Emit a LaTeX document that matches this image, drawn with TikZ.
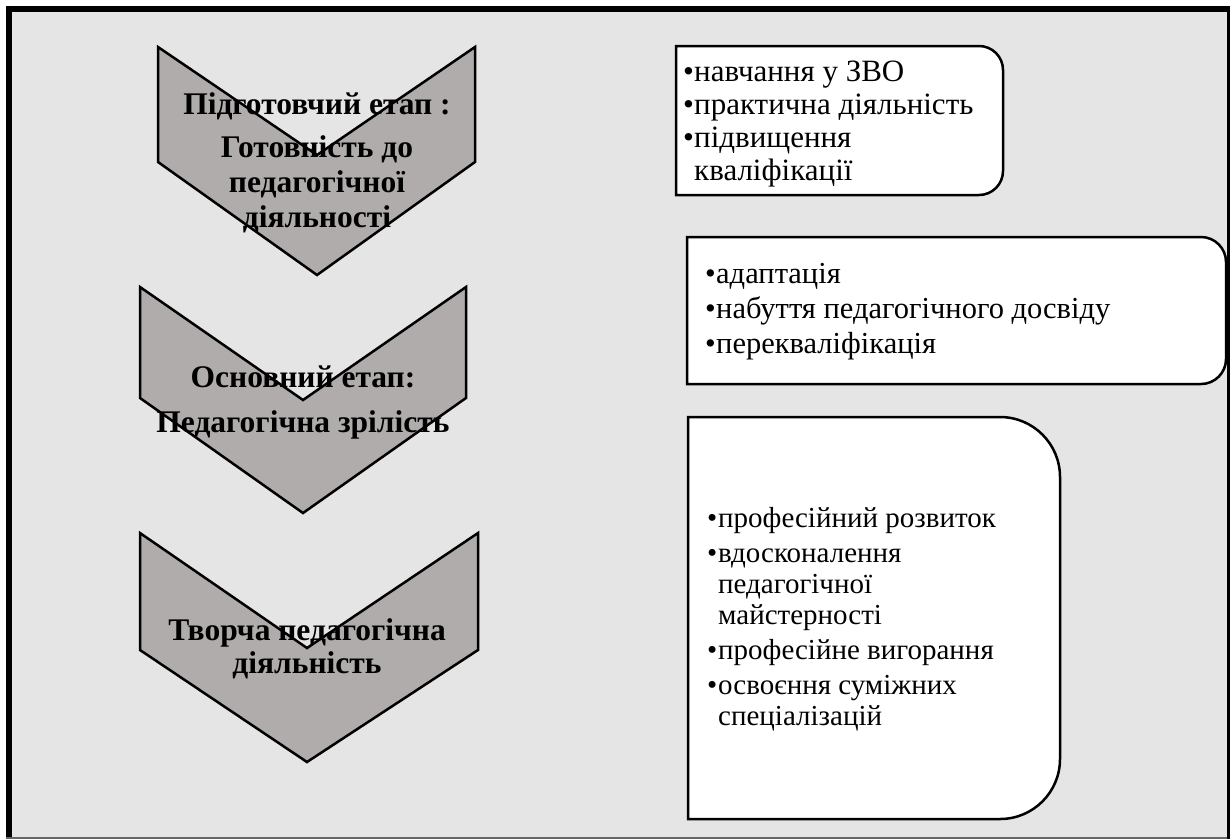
\documentclass[tikz,border=0pt]{standalone}
\usepackage{fontspec}
\setmainfont{LiberationSerif}[Extension=.ttf,UprightFont=*-Regular,BoldFont=*-Bold,ItalicFont=*-Italic,BoldItalicFont=*-BoldItalic]
\usetikzlibrary{positioning}
\definecolor{bgcol}{RGB}{229,229,229}
\definecolor{chevcol}{RGB}{176,172,171}
\newcommand{\itm}{\makebox[11pt][l]{•}}
\newcommand{\cnt}{\hspace*{11pt}}

\begin{document}
\begin{tikzpicture}[x=1pt,y=-1pt,
    chev/.style={draw=black,line width=2.5pt,fill=chevcol,line join=miter},
    chevtext/.style={font=\bfseries\fontsize{31.5}{35}\selectfont,align=center,inner sep=0pt,anchor=base},
    stagebox/.style={draw=black,line width=2.5pt,fill=white},
    boxtext/.style={align=left,inner sep=0pt,anchor=base west}]
  \useasboundingbox (0,0) rectangle (1230,839);
  % frame
  \fill[bgcol] (9,9) rectangle (1228,838);
  % chevrons
  \foreach \l/\r/\m/\t/\s/\k/\p in {158/475/317/47/162/155/275,140/466/303/287/398/400/513,140/478/307/533/650/648/762}
    \draw[chev] (\l,\t) -- (\m,\k) -- (\r,\t) -- (\r,\s) -- (\m,\p) -- (\l,\s) -- cycle;
  % captions (anchored at the last line)
  \node[chevtext] (prep) at (317,227) {Підготовчий етап :\\[8pt] Готовність до\\ педагогічної\\ діяльності};
  \node[chevtext] (main) at (303,432) {Основний етап:\\[10pt] Педагогічна зрілість};
  \node[chevtext] (creative) at (307,673) {Творча педагогічна\\[-2pt] діяльність};
  % boxes
  \draw[stagebox] (676,46) -- (979,46) arc[start angle=-90,end angle=0,radius=24] -- (1003,171)
    arc[start angle=0,end angle=90,radius=24] -- (676,195) -- cycle;
  \draw[stagebox] (687,237) -- (1201,237) arc[start angle=-90,end angle=0,radius=25] -- (1226,359)
    arc[start angle=0,end angle=90,radius=25] -- (687,384) -- cycle;
  \draw[stagebox] (688,417) -- (1000,417) arc[start angle=-90,end angle=0,radius=60] -- (1060,759)
    arc[start angle=0,end angle=90,radius=60] -- (688,819) -- cycle;
  \node[boxtext,font=\fontsize{31}{33}\selectfont] (prep-list) at (683,180)
    {\itm навчання у ЗВО\\ \itm практична діяльність\\ \itm підвищення\\ \cnt кваліфікації};
  \node[boxtext,font=\fontsize{30.5}{35}\selectfont] (main-list) at (705,353)
    {\itm адаптація\\ \itm набуття педагогічного досвіду\\ \itm перекваліфікація};
  \node[boxtext,font=\fontsize{29}{31}\selectfont] (creative-list) at (707,725)
    {\itm професійний розвиток\\[4pt] \itm вдосконалення\\ \cnt педагогічної\\ \cnt майстерності\\[4pt]
     \itm професійне вигорання\\[4pt] \itm освоєння суміжних\\ \cnt спеціалізацій};
  % border
  \draw[line width=6pt] (9,839) -- (9,9) -- (1230,9);
  \draw[line width=3pt] (1228.5,6) -- (1228.5,839);
  \draw[line width=2pt,black!60] (6,838) -- (1227,838);
\end{tikzpicture}
\end{document}
